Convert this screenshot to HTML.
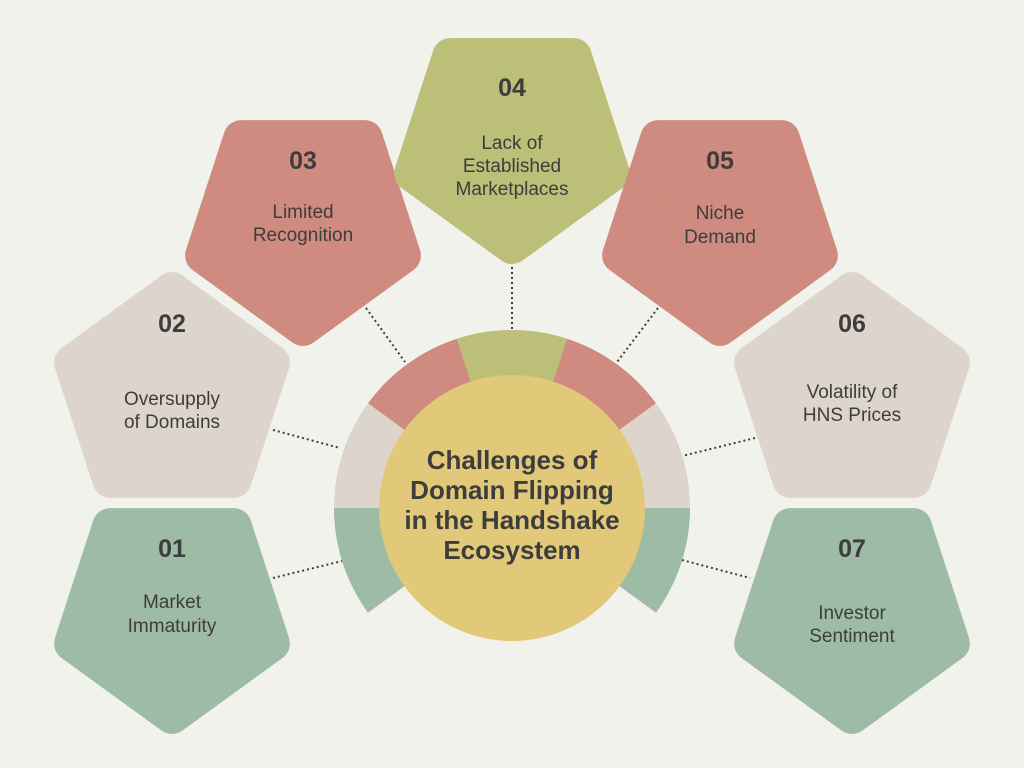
<!DOCTYPE html>
<html><head><meta charset="utf-8"><style>
body{margin:0;background:#f2f2ec;}
svg{display:block}
text{font-family:"Liberation Sans",sans-serif;fill:#3d3d3d;text-anchor:middle;}
.n{font-weight:bold;font-size:25px}
.l{font-size:19px}
.c{font-weight:bold;font-size:26px}
</style></head><body>
<svg width="1024" height="768" viewBox="0 0 1024 768" xmlns="http://www.w3.org/2000/svg">
<rect width="1024" height="768" fill="#f2f2ec"/>
<defs>
<polygon id="dn" points="0,105 99.9,32.4 61.7,-84.9 -61.7,-84.9 -99.9,32.4" stroke-width="36" stroke-linejoin="round"/>
<polygon id="up" points="0,-105 99.9,-32.4 61.7,84.9 -61.7,84.9 -99.9,-32.4" stroke-width="36" stroke-linejoin="round"/>
</defs>
<g stroke="#3d3d3d" stroke-width="2" stroke-dasharray="2,3">
<line x1="273" y1="578" x2="342" y2="561"/>
<line x1="273" y1="430" x2="340" y2="448"/>
<line x1="366" y1="308" x2="405" y2="362"/>
<line x1="512" y1="262" x2="512" y2="330"/>
<line x1="658" y1="308" x2="617" y2="362"/>
<line x1="755" y1="438" x2="682" y2="456"/>
<line x1="682" y1="560" x2="750" y2="578"/>
</g>
<use href="#dn" x="172" y="611" fill="#9dbba5" stroke="#9dbba5"/>
<use href="#up" x="172" y="395" fill="#ddd5cc" stroke="#ddd5cc"/>
<use href="#dn" x="303" y="223" fill="#cf8b7f" stroke="#cf8b7f"/>
<use href="#dn" x="512" y="141" fill="#bbbf78" stroke="#bbbf78"/>
<use href="#dn" x="720" y="223" fill="#cf8b7f" stroke="#cf8b7f"/>
<use href="#up" x="852" y="395" fill="#ddd5cc" stroke="#ddd5cc"/>
<use href="#dn" x="852" y="611" fill="#9dbba5" stroke="#9dbba5"/>

<path d="M368,612.7 A178,178 0 0 1 334,508 L392,508 A120,120 0 0 0 414.9,578.6Z" fill="#9dbba5"/>
<path d="M334,508 A178,178 0 0 1 368,403.3 L414.9,437.4 A120,120 0 0 0 392,508Z" fill="#ddd5cc"/>
<path d="M368,403.3 A178,178 0 0 1 457,338.7 L474.9,393.9 A120,120 0 0 0 414.9,437.4Z" fill="#cf8b7f"/>
<path d="M457,338.7 A178,178 0 0 1 567,338.7 L549.1,393.9 A120,120 0 0 0 474.9,393.9Z" fill="#bbbf78"/>
<path d="M567,338.7 A178,178 0 0 1 656,403.3 L609.1,437.4 A120,120 0 0 0 549.1,393.9Z" fill="#cf8b7f"/>
<path d="M656,403.3 A178,178 0 0 1 690,508 L632,508 A120,120 0 0 0 609.1,437.4Z" fill="#ddd5cc"/>
<path d="M690,508 A178,178 0 0 1 656,612.7 L609.1,578.6 A120,120 0 0 0 632,508Z" fill="#9dbba5"/>
<circle cx="512" cy="508" r="133" fill="#e2c97a"/>

<text class="c" x="512" y="469">Challenges of</text>
<text class="c" x="512" y="499">Domain Flipping</text>
<text class="c" x="512" y="529">in the Handshake</text>
<text class="c" x="512" y="559">Ecosystem</text>

<text class="n" x="172" y="557">01</text>
<text class="l" x="172" y="608">Market</text>
<text class="l" x="172" y="632">Immaturity</text>

<text class="n" x="172" y="332">02</text>
<text class="l" x="172" y="405">Oversupply</text>
<text class="l" x="172" y="428">of Domains</text>

<text class="n" x="303" y="169">03</text>
<text class="l" x="303" y="218">Limited</text>
<text class="l" x="303" y="241">Recognition</text>

<text class="n" x="512" y="96">04</text>
<text class="l" x="512" y="149">Lack of</text>
<text class="l" x="512" y="172">Established</text>
<text class="l" x="512" y="195">Marketplaces</text>

<text class="n" x="720" y="169">05</text>
<text class="l" x="720" y="219">Niche</text>
<text class="l" x="720" y="243">Demand</text>

<text class="n" x="852" y="332">06</text>
<text class="l" x="852" y="398">Volatility of</text>
<text class="l" x="852" y="421">HNS Prices</text>

<text class="n" x="852" y="557">07</text>
<text class="l" x="852" y="619">Investor</text>
<text class="l" x="852" y="642">Sentiment</text>
</svg>
</body></html>
